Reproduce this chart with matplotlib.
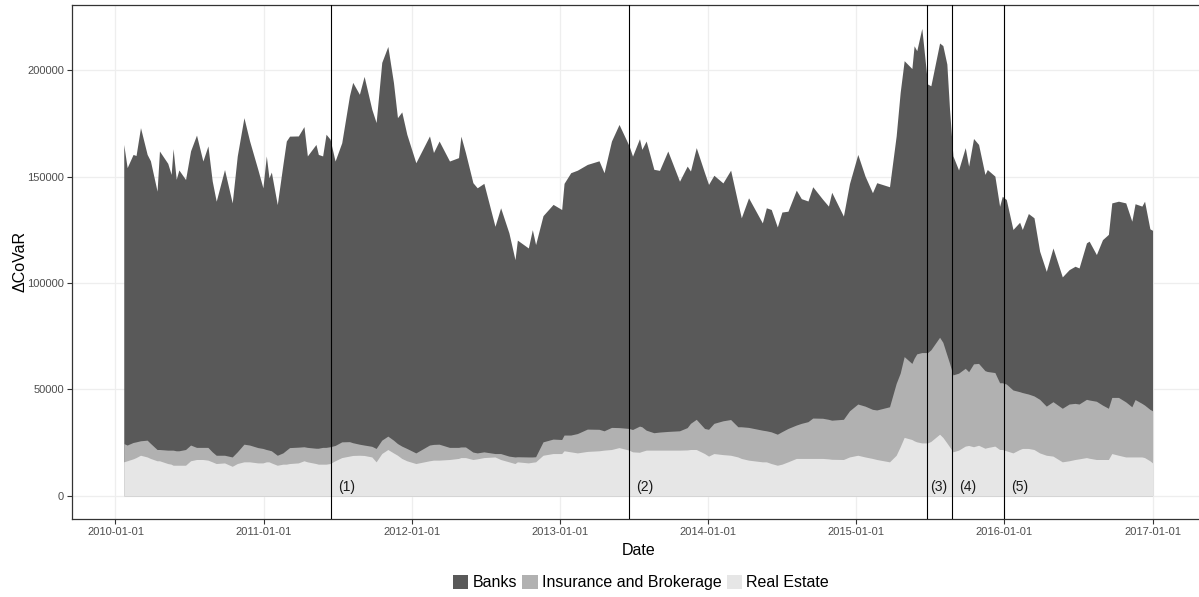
import numpy as np
import pandas as pd
import matplotlib
matplotlib.use('Agg')
import matplotlib.pyplot as plt
from matplotlib.patches import Patch
from matplotlib.ticker import FuncFormatter

plt.rcParams['font.family'] = ['Liberation Sans', 'DejaVu Sans']

# observation times (decimal years) and sector contributions to Delta CoVaR (thousands)
t = [2010.056, 2010.079, 2010.119, 2010.139, 2010.169, 2010.214, 2010.236, 2010.281, 2010.297, 2010.353,
     2010.376, 2010.389, 2010.410, 2010.428, 2010.473, 2010.507, 2010.547, 2010.590, 2010.624, 2010.653,
     2010.680, 2010.736, 2010.788, 2010.822, 2010.867, 2010.905, 2010.961, 2010.995, 2011.018, 2011.036,
     2011.052, 2011.092, 2011.130, 2011.153, 2011.175, 2011.234, 2011.272, 2011.295, 2011.353, 2011.369,
     2011.398, 2011.421, 2011.448, 2011.482, 2011.527, 2011.579, 2011.601, 2011.646, 2011.678, 2011.730,
     2011.759, 2011.797, 2011.838, 2011.876, 2011.903, 2011.932, 2011.966, 2012.027, 2012.119, 2012.146,
     2012.184, 2012.254, 2012.315, 2012.331, 2012.362, 2012.412, 2012.441, 2012.486, 2012.561, 2012.599,
     2012.655, 2012.696, 2012.712, 2012.786, 2012.813, 2012.835, 2012.885, 2012.953, 2013.011, 2013.027,
     2013.072, 2013.117, 2013.184, 2013.263, 2013.297, 2013.347, 2013.398, 2013.466, 2013.489, 2013.536,
     2013.552, 2013.581, 2013.633, 2013.671, 2013.727, 2013.806, 2013.858, 2013.880, 2013.919, 2013.975,
     2014.002, 2014.038, 2014.099, 2014.151, 2014.200, 2014.223, 2014.272, 2014.365, 2014.392, 2014.425,
     2014.466, 2014.497, 2014.538, 2014.594, 2014.628, 2014.673, 2014.705, 2014.772, 2014.811, 2014.833,
     2014.912, 2014.953, 2015.009, 2015.058, 2015.108, 2015.137, 2015.223, 2015.268, 2015.295, 2015.322,
     2015.374, 2015.389, 2015.407, 2015.441, 2015.480, 2015.502, 2015.561, 2015.583, 2015.610, 2015.628,
     2015.651, 2015.689, 2015.734, 2015.757, 2015.790, 2015.824, 2015.867, 2015.883, 2015.934, 2015.966,
     2015.984, 2016.011, 2016.056, 2016.101, 2016.119, 2016.160, 2016.198, 2016.236, 2016.281, 2016.326,
     2016.389, 2016.435, 2016.475, 2016.502, 2016.552, 2016.570, 2016.619, 2016.660, 2016.700, 2016.723,
     2016.768, 2016.817, 2016.858, 2016.880, 2016.926, 2016.944, 2016.980, 2016.998]

banks = [140.7, 130.5, 135.5, 134.7, 147.3, 134.4, 132.9, 121.5, 140.4, 134.9,
         129.7, 141.8, 127.7, 132.1, 127.0, 138.4, 146.9, 134.7, 141.8, 127.4,
         119.5, 134.4, 119.5, 139.2, 153.6, 143.1, 130.8, 122.6, 138.1, 128.1,
         131.1, 117.9, 135.7, 145.4, 146.5, 146.4, 150.6, 137.1, 142.9, 138.2,
         137.1, 147.3, 144.7, 133.8, 140.7, 162.7, 169.5, 164.6, 173.4, 158.5,
         153.3, 177.7, 183.3, 168.2, 153.3, 157.2, 147.8, 136.5, 145.4, 137.3,
         142.6, 134.7, 136.3, 146.2, 138.4, 126.7, 124.7, 126.3, 106.9, 115.6,
         105.0, 92.8, 101.9, 98.3, 106.9, 99.8, 106.4, 110.4, 108.2, 118.4,
         123.4, 123.9, 124.5, 126.3, 121.4, 134.7, 142.6, 132.9, 128.6, 135.2,
         130.5, 136.0, 123.9, 123.1, 131.9, 117.4, 123.0, 118.7, 127.8, 120.3,
         115.2, 116.7, 111.9, 117.3, 105.3, 98.3, 108.0, 97.5, 104.9, 104.6,
         97.5, 103.3, 102.2, 110.5, 105.7, 103.8, 108.8, 103.0, 100.3, 107.2,
         95.6, 106.9, 117.4, 108.2, 101.9, 106.9, 103.5, 116.4, 132.1, 139.2,
         138.7, 147.0, 142.6, 152.5, 126.3, 124.2, 138.4, 139.6, 136.8, 119.5,
         103.0, 95.6, 103.8, 96.7, 106.0, 103.0, 92.3, 95.0, 92.4, 83.0,
         87.7, 86.8, 75.5, 79.7, 76.7, 84.9, 83.8, 69.7, 63.4, 72.3,
         61.8, 63.2, 64.5, 64.0, 73.6, 74.7, 69.0, 77.8, 81.8, 91.5,
         92.3, 93.6, 87.3, 92.1, 92.8, 95.9, 84.9, 84.9]

insurance = [8.6, 7.4, 7.7, 7.4, 6.8, 7.9, 7.1, 5.3, 5.3, 6.3,
             6.6, 7.1, 6.8, 6.8, 7.4, 7.4, 5.7, 5.7, 6.0, 4.7,
             3.9, 3.6, 4.4, 5.5, 8.3, 7.9, 7.2, 6.8, 5.8, 5.5,
             5.7, 4.7, 5.3, 6.6, 7.5, 7.4, 6.6, 6.8, 7.2, 7.5,
             7.9, 7.9, 7.9, 7.2, 7.4, 6.8, 6.0, 5.2, 4.9, 5.0,
             6.3, 6.3, 6.3, 6.0, 5.5, 5.8, 5.8, 5.0, 7.4, 7.4,
             7.5, 5.7, 5.2, 5.0, 5.0, 3.5, 2.8, 2.7, 1.6, 2.8,
             2.7, 3.1, 2.4, 2.8, 2.5, 2.4, 6.3, 6.8, 6.6, 7.4,
             7.9, 9.1, 10.5, 10.1, 9.1, 10.4, 9.4, 10.2, 10.5, 12.3,
             11.6, 9.4, 8.2, 8.5, 8.8, 9.1, 10.5, 12.3, 14.2, 11.8,
             12.6, 14.2, 15.9, 16.8, 14.2, 14.9, 15.4, 14.9, 14.6, 14.9,
             14.6, 15.3, 15.7, 15.7, 16.5, 17.3, 19.0, 18.9, 18.6, 18.4,
             18.9, 21.7, 24.1, 23.9, 23.1, 23.3, 25.9, 33.8, 34.6, 38.0,
             35.8, 38.8, 41.4, 42.5, 42.5, 43.1, 45.6, 44.7, 41.4, 39.3,
             36.2, 36.2, 36.6, 34.7, 39.0, 38.5, 36.5, 35.8, 34.6, 31.4,
             31.4, 31.4, 29.6, 27.2, 26.3, 25.6, 25.2, 25.2, 23.1, 25.6,
             25.2, 26.7, 26.4, 25.8, 27.4, 27.4, 27.4, 25.6, 24.1, 26.4,
             27.2, 25.9, 23.6, 27.0, 25.2, 24.7, 24.2, 24.5]

real_estate = [15.9, 16.4, 17.3, 17.9, 19.0, 18.2, 17.5, 16.4, 16.4, 15.1,
               14.8, 14.3, 14.3, 14.3, 14.3, 16.4, 17.0, 17.0, 16.7, 15.9,
               15.1, 15.4, 13.8, 15.1, 15.9, 15.9, 15.4, 15.4, 15.9, 15.9,
               15.4, 14.3, 14.8, 14.8, 15.1, 15.4, 16.4, 15.9, 15.1, 14.8,
               14.8, 14.8, 15.1, 16.4, 17.9, 18.6, 18.9, 19.0, 18.9, 18.2,
               15.9, 19.8, 21.7, 20.1, 19.0, 17.5, 16.4, 15.1, 16.4, 16.7,
               16.7, 17.0, 17.5, 17.9, 17.9, 17.0, 17.3, 17.9, 18.2, 17.0,
               15.9, 15.1, 15.9, 15.4, 15.7, 15.9, 19.0, 19.8, 19.8, 21.1,
               20.6, 20.1, 20.8, 21.1, 21.4, 21.7, 22.6, 21.4, 20.6, 20.4,
               20.8, 21.4, 21.4, 21.4, 21.4, 21.4, 21.5, 21.7, 21.7, 19.8,
               18.6, 19.8, 19.3, 19.0, 18.2, 17.5, 16.7, 15.9, 15.9, 15.1,
               14.3, 14.8, 15.9, 17.5, 17.5, 17.5, 17.5, 17.5, 17.3, 17.1,
               17.0, 18.2, 19.0, 18.2, 17.5, 17.0, 15.9, 19.0, 23.0, 27.4,
               26.4, 25.8, 25.3, 24.8, 24.8, 25.5, 28.9, 27.4, 24.8, 23.0,
               20.6, 21.4, 23.3, 23.6, 23.0, 23.7, 22.3, 22.6, 23.3, 21.7,
               21.7, 21.1, 20.1, 21.7, 22.2, 22.2, 21.7, 20.1, 19.0, 18.6,
               15.9, 16.4, 17.0, 17.3, 17.9, 17.6, 17.0, 17.0, 17.0, 19.8,
               19.0, 18.2, 18.2, 18.2, 18.2, 17.9, 16.4, 15.4]

sectors = ['Banks', 'Insurance and Brokerage', 'Real Estate']
colors = ['#595959', '#b1b1b1', '#e6e6e6']

# market events marked on the chart
events = ['2011-06-17', '2013-06-20', '2015-06-25', '2015-08-24', '2016-01-01']
event_labels = ['(1)', '(2)', '(3)', '(4)', '(5)']

assert len(t) == len(banks) == len(insurance) == len(real_estate)

dates = pd.Timestamp('2010-01-01') + pd.to_timedelta((np.array(t) - 2010) * 365.25, unit='D')
re = np.array(real_estate) * 1000
ins = np.array(insurance) * 1000
bk = np.array(banks) * 1000
lower = re
middle = re + ins
total = re + ins + bk

fig = plt.figure(figsize=(11.99, 5.97), dpi=100)
ax = fig.add_axes([72.3 / 1199, 1 - 519 / 597, (1204 - 72.3) / 1199, 514 / 597])

# stacked areas, drawn from the top layer down so no seams show
ax.fill_between(dates, 0, total, color=colors[0], lw=0, zorder=1)
ax.fill_between(dates, 0, middle, color=colors[1], lw=0, zorder=1.1)
ax.fill_between(dates, 0, lower, color=colors[2], lw=0, zorder=1.2)

for d, lab, dx in zip(events, event_labels, [11.2, 11.5, 8.0, 11.2, 11.3]):
    ax.axvline(pd.Timestamp(d), color='black', lw=0.8, zorder=3)
    ax.annotate(lab, xy=(pd.Timestamp(d), 0), xytext=(dx, 6), textcoords='offset points',
                ha='center', va='center', fontsize=10, color='#1a1a1a')

# ggplot-style 5% expansion
span = dates[-1] - dates[0]
ax.set_xlim(dates[0] - span * 0.05, dates[-1] + span * 0.05)
ymax = total.max()
ax.set_ylim(-0.05 * ymax, 1.05 * ymax)

ax.set_xticks([pd.Timestamp(f'{y}-01-01') for y in range(2010, 2018)])
ax.set_xticklabels([f'{y}-01-01' for y in range(2010, 2018)])
ax.set_yticks(np.arange(0, 200001, 50000))
ax.yaxis.set_major_formatter(FuncFormatter(lambda v, p: f'{int(v)}'))

ax.set_axisbelow(True)
ax.grid(color='#eeeeee', lw=0.9)
for s in ax.spines.values():
    s.set_color('#333333')
    s.set_linewidth(0.9)
ax.tick_params(labelsize=8, labelcolor='#4d4d4d', color='#333333', length=3.5, width=0.8, pad=2.5)

ax.set_xlabel('Date', fontsize=11.5, labelpad=4)
ax.set_ylabel('ΔCoVaR', fontsize=11.5, labelpad=0)

handles = [Patch(facecolor=c, edgecolor='none') for c in colors]
fig.legend(handles, sectors, loc='center', bbox_to_anchor=(0.5346, 0.024), ncol=3, frameon=False,
           fontsize=11.5, handlelength=0.95, handleheight=1.0, handletextpad=0.25, columnspacing=0.35)

fig.savefig('out.png', dpi=100)
